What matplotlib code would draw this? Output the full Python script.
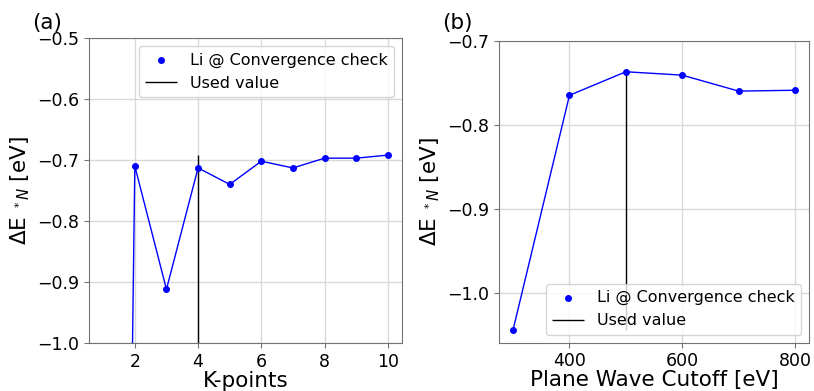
import numpy as np
import matplotlib
matplotlib.use('Agg')
import matplotlib.pyplot as plt

# K-point convergence (Li)
kpoints = [1, 2, 3, 4, 5, 6, 7, 8, 9, 10]
dE_kpoints = [-4.7, -0.710, -0.912, -0.713, -0.740, -0.702, -0.713, -0.697, -0.697, -0.692]
k_used = 4

# Plane wave cutoff convergence (Li)
cutoffs = [300, 400, 500, 600, 700, 800]
dE_cutoff = [-1.044, -0.765, -0.737, -0.741, -0.760, -0.759]
cutoff_used = 500

ylabel = r'$\Delta$E $_{^*N}$ [eV]'
label_fs = 15.5
tick_fs = 12.5
legend_fs = 11.5


def style_axes(ax):
    ax.grid(True, color='0.85', linewidth=1.0)
    ax.set_axisbelow(True)
    for sp in ax.spines.values():
        sp.set_color('0.45')
    ax.tick_params(labelsize=tick_fs, color='0.45')


fig = plt.figure(figsize=(8.14, 3.91), dpi=100)
ax1 = fig.add_axes([0.1093, 0.1228, 0.3846, 0.7800])
ax2 = fig.add_axes([0.6130, 0.1235, 0.3809, 0.7725])

# (a) K-points
ax1.plot(kpoints, dE_kpoints, color='blue', linewidth=1.0)
ax1.scatter(kpoints, dE_kpoints, color='blue', s=16, zorder=3, label='Li @ Convergence check')
ax1.vlines(k_used, min(dE_kpoints), max(dE_kpoints), color='black', linewidth=1.0, label='Used value')
ax1.set_ylim(-1.0, -0.5)
ax1.set_xlabel('K-points', fontsize=label_fs, labelpad=0)
ax1.set_ylabel(ylabel, fontsize=label_fs)
style_axes(ax1)
ax1.legend(loc='upper right', fontsize=legend_fs)

# (b) plane wave cutoff
ax2.plot(cutoffs, dE_cutoff, color='blue', linewidth=1.0)
ax2.scatter(cutoffs, dE_cutoff, color='blue', s=16, zorder=3, label='Li @ Convergence check')
ax2.vlines(cutoff_used, min(dE_cutoff), max(dE_cutoff), color='black', linewidth=1.0, label='Used value')
ax2.set_ylim(top=-0.7)
ax2.set_yticks([-1.0, -0.9, -0.8, -0.7])
ax2.set_xlabel('Plane Wave Cutoff [eV]', fontsize=label_fs, labelpad=0)
ax2.set_ylabel(ylabel, fontsize=label_fs)
style_axes(ax2)
ax2.legend(loc='lower right', fontsize=legend_fs)

fig.text(0.040, 0.967, '(a)', fontsize=label_fs, va='top')
fig.text(0.543, 0.967, '(b)', fontsize=label_fs, va='top')

fig.savefig('out.png', dpi=100)
